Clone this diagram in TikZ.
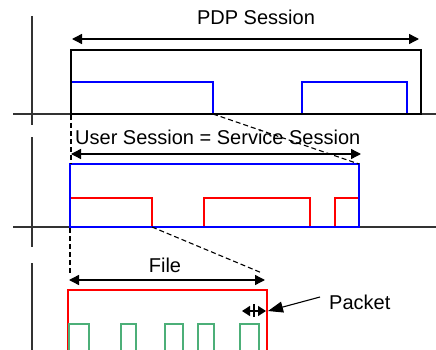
\documentclass[tikz,border=0pt]{standalone}
\usepackage{fontspec}
\setmainfont{Liberation Sans}
\usetikzlibrary{arrows.meta}
\definecolor{pktgreen}{RGB}{76,175,120}
\tikzset{
  axisline/.style={line width=1.1pt, black!80},
  span/.style={line width=1.4pt, {Triangle[length=10pt,width=10pt]}-{Triangle[length=10pt,width=10pt]}},
  zoomline/.style={line width=1.1pt, dash pattern=on 5pt off 3pt},
  lbl/.style={font=\fontsize{20}{24}\selectfont, inner sep=0pt, anchor=base},
  pdpbox/.style={line width=1.2pt, black},
  userbox/.style={line width=1.3pt, blue},
  filebox/.style={line width=1.3pt, red},
  pktbox/.style={line width=1.3pt, pktgreen},
}
\begin{document}
\begin{tikzpicture}[x=1pt, y=-1pt]
\useasboundingbox (0,0) rectangle (436,350);

% time axes
\draw[axisline] (32,16) -- (32,125);
\draw[axisline] (32,137) -- (32,247);
\draw[axisline] (32,263) -- (32,352);
\draw[axisline] (13,114) -- (436,114);
\draw[axisline] (13,227) -- (436,227);

% PDP session level
\draw[userbox] (71,114) rectangle (213,82);
\draw[userbox] (302,114) rectangle (407,82);
\draw[pdpbox] (71,114) rectangle (421,50);
\coordinate (pdpL) at (72,39);
\coordinate (pdpR) at (419,39);
\draw[span] (pdpL) -- (pdpR);
\node[lbl] (pdp) at (256,25) {PDP Session};

% user / service session level
\draw[filebox] (70,227) rectangle (152,198);
\draw[filebox] (204,227) rectangle (310,198);
\draw[filebox] (335,227) rectangle (359,198);
\draw[userbox] (70,227) rectangle (359,164);
\coordinate (usrL) at (71,154);
\coordinate (usrR) at (361,154);
\draw[span] (usrL) -- (usrR);
\node[lbl, anchor=base west] (usr) at (75,144) {User Session = Service Session};

% zoom-in guides
\draw[zoomline] (71,115) -- (71,164);
\draw[zoomline] (213,114) -- (359,164);
\draw[zoomline] (70,228) -- (70,273);
\draw[zoomline] (152,227) -- (262,273);

% file level
\draw[filebox] (68,352) -- (68,290) -- (267,290) -- (267,352);
\coordinate (fileL) at (69,280);
\coordinate (fileR) at (265,280);
\draw[span] (fileL) -- (fileR);
\node[lbl] (file) at (165,272) {File};

% packets
\foreach \a/\b in {69/89, 121/136, 165/183, 198/214, 240/259}
  \draw[pktbox] (\a,352) -- (\a,324) -- (\b,324) -- (\b,352);

% packet size marker
\coordinate (pkL) at (242,311);
\coordinate (pkR) at (266,311);
\draw[line width=1.4pt, {Triangle[length=8pt,width=10pt]}-{Triangle[length=8pt,width=10pt]}] (pkL) -- (pkR);
\draw[line width=1.4pt] (254,304) -- (254,317);

\node[lbl, anchor=base west] (pkt) at (329,309) {Packet};
\coordinate (pktFrom) at (320,297);
\coordinate (pktTo) at (268,311);
\draw[line width=1.1pt, -{Triangle[length=15pt,width=11pt]}] (pktFrom) -- (pktTo);
\end{tikzpicture}
\end{document}
